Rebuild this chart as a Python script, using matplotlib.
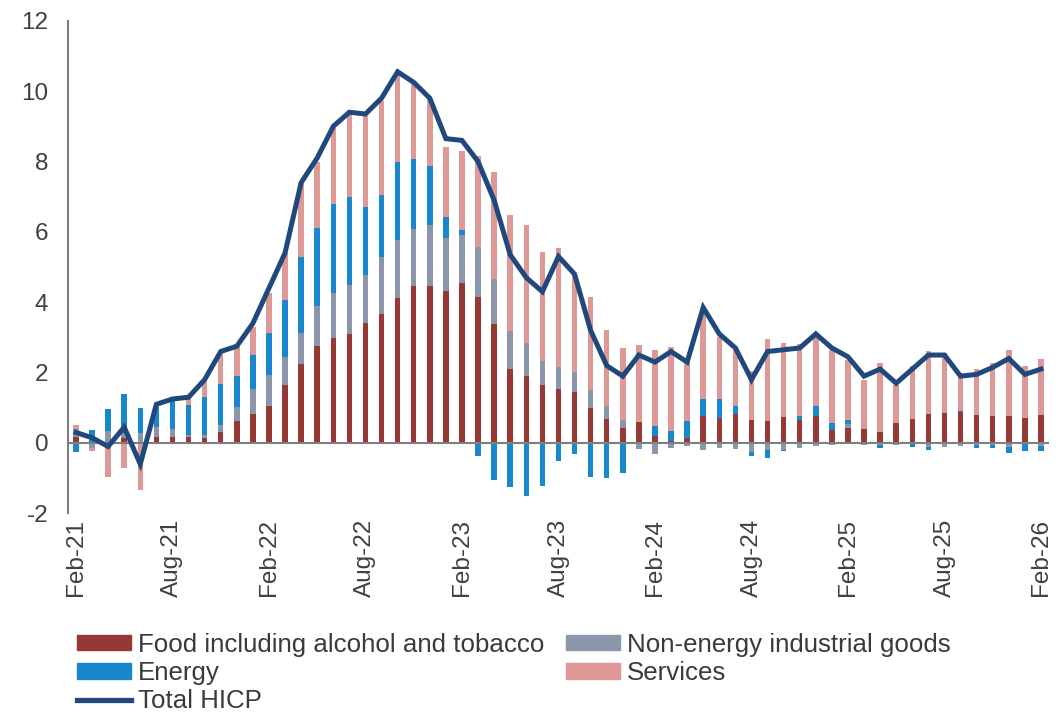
import numpy as np
import matplotlib.pyplot as plt
from matplotlib.patches import Patch
from matplotlib.lines import Line2D

plt.rcParams['font.family'] = ['Liberation Sans', 'DejaVu Sans']
plt.rcParams['axes.unicode_minus'] = False

# Data (contributions, percentage points), monthly Feb-21 .. Feb-26
months = ["Feb-21", "Mar-21", "Apr-21", "May-21", "Jun-21", "Jul-21", "Aug-21", "Sep-21", "Oct-21", "Nov-21",
          "Dec-21", "Jan-22", "Feb-22", "Mar-22", "Apr-22", "May-22", "Jun-22", "Jul-22", "Aug-22", "Sep-22",
          "Oct-22", "Nov-22", "Dec-22", "Jan-23", "Feb-23", "Mar-23", "Apr-23", "May-23", "Jun-23", "Jul-23",
          "Aug-23", "Sep-23", "Oct-23", "Nov-23", "Dec-23", "Jan-24", "Feb-24", "Mar-24", "Apr-24", "May-24",
          "Jun-24", "Jul-24", "Aug-24", "Sep-24", "Oct-24", "Nov-24", "Dec-24", "Jan-25", "Feb-25", "Mar-25",
          "Apr-25", "May-25", "Jun-25", "Jul-25", "Aug-25", "Sep-25", "Oct-25", "Nov-25", "Dec-25", "Jan-26",
          "Feb-26"]

food = [0.17, 0.00, 0.00, 0.15, 0.00, 0.17, 0.17, 0.17, 0.14, 0.31,
        0.63, 0.82, 1.05, 1.65, 2.24, 2.77, 2.97, 3.11, 3.42, 3.67,
        4.13, 4.45, 4.46, 4.33, 4.54, 4.15, 3.39, 2.09, 1.90, 1.64,
        1.54, 1.45, 1.00, 0.68, 0.43, 0.60, 0.21, 0.06, 0.14, 0.77,
        0.71, 0.82, 0.64, 0.62, 0.74, 0.65, 0.77, 0.37, 0.43, 0.41,
        0.31, 0.57, 0.68, 0.82, 0.85, 0.88, 0.79, 0.77, 0.76, 0.70,
        0.79]

neig = [0.24, -0.14, 0.33, 0.12, 0.28, 0.28, 0.24, 0.05, 0.08, 0.21,
        0.38, 0.72, 0.88, 0.80, 0.90, 1.13, 1.29, 1.38, 1.36, 1.61,
        1.64, 1.64, 1.74, 1.49, 1.37, 1.43, 1.28, 1.10, 0.95, 0.69,
        0.63, 0.57, 0.51, 0.36, 0.22, -0.18, -0.32, -0.13, -0.09, -0.19,
        -0.14, -0.16, -0.26, -0.21, -0.21, -0.14, -0.09, -0.05, 0.12, -0.07,
        -0.07, -0.05, -0.04, -0.10, -0.12, -0.08, -0.05, -0.05, -0.11, -0.03,
        -0.09]

energy = [-0.26, 0.36, 0.64, 1.11, 0.72, 0.57, 0.80, 0.85, 1.09, 1.15,
          0.89, 0.97, 1.20, 1.62, 2.16, 2.20, 2.54, 2.51, 1.94, 1.77,
          2.23, 1.99, 1.66, 0.59, 0.15, -0.37, -1.04, -1.25, -1.52, -1.21,
          -0.52, -0.30, -0.97, -1.00, -0.84, 0.00, 0.26, 0.28, 0.48, 0.47,
          0.53, 0.24, -0.11, -0.22, -0.03, 0.11, 0.28, 0.20, 0.11, 0.00,
          -0.07, -0.02, -0.06, -0.10, 0.00, 0.02, -0.08, -0.08, -0.17, -0.21,
          -0.15]

services = [0.09, -0.10, -0.97, -0.71, -1.33, 0.03, 0.11, 0.26, 0.47, 0.87,
            0.82, 0.80, 1.12, 1.34, 2.08, 1.90, 2.15, 2.33, 2.58, 2.66,
            2.46, 2.13, 1.89, 2.00, 2.25, 2.58, 3.04, 3.29, 3.35, 3.10,
            3.37, 2.80, 2.65, 2.18, 2.06, 2.18, 2.16, 2.39, 1.70, 2.44,
            1.77, 1.58, 1.40, 2.34, 2.10, 2.05, 2.06, 2.08, 1.71, 1.39,
            1.95, 1.07, 1.52, 1.80, 1.71, 1.09, 1.30, 1.50, 1.89, 1.48,
            1.59]

total = [0.30, 0.15, -0.10, 0.45, -0.60, 1.10, 1.25, 1.30, 1.80, 2.60,
         2.75, 3.40, 4.40, 5.40, 7.40, 8.10, 9.00, 9.40, 9.35, 9.80,
         10.55, 10.25, 9.80, 8.65, 8.60, 8.00, 6.90, 5.35, 4.70, 4.30,
         5.30, 4.80, 3.20, 2.20, 1.90, 2.50, 2.30, 2.60, 2.30, 3.85,
         3.10, 2.70, 1.80, 2.60, 2.65, 2.70, 3.10, 2.70, 2.45, 1.90,
         2.10, 1.70, 2.10, 2.50, 2.50, 1.90, 1.95, 2.15, 2.40, 1.95,
         2.10]

series = [("Food including alcohol and tobacco", food, "#963836"),
          ("Non-energy industrial goods", neig, "#8C96AA"),
          ("Energy", energy, "#1987CD"),
          ("Services", services, "#DE9896")]

fig = plt.figure(figsize=(10.61, 7.16), dpi=100)
ax = fig.add_axes([0.064, 0.283, 0.9247, 0.688])

x = np.arange(len(months))
width = 0.34
pos_base = np.zeros(len(x))
neg_base = np.zeros(len(x))
for name, vals, col in series:
    v = np.array(vals)
    p = np.where(v > 0, v, 0)
    n = np.where(v < 0, v, 0)
    ax.bar(x, p, width, bottom=pos_base, color=col, zorder=2)
    ax.bar(x, n, width, bottom=neg_base, color=col, zorder=2)
    pos_base += p
    neg_base += n

ax.axhline(0, color="#7f7f7f", lw=1.5, zorder=3)
ax.plot(x, total, color="#1F497D", lw=3.6, zorder=4, solid_joinstyle="miter")

ax.set_xlim(-0.5, 60.5)
ax.set_ylim(-2, 12)
ax.set_yticks(range(-2, 13, 2))
ax.set_xticks(x[::6])
ax.set_xticklabels(months[::6], rotation=90, va="top")
ax.tick_params(axis="both", length=0, labelsize=17.5, colors="#404040")
ax.tick_params(axis="y", pad=14)
ax.tick_params(axis="x", pad=4)

for s in ["top", "right", "bottom"]:
    ax.spines[s].set_visible(False)
ax.spines["left"].set_color("#7f7f7f")
ax.spines["left"].set_linewidth(1.5)

handles = [Patch(color=series[0][2], label=series[0][0]),
           Patch(color=series[2][2], label=series[2][0]),
           Line2D([0], [0], color="#1F497D", lw=3.8, label="Total HICP"),
           Patch(color=series[1][2], label=series[1][0]),
           Patch(color=series[3][2], label=series[3][0])]
fig.legend(handles=handles, loc="upper left", bbox_to_anchor=(0.063, 0.131),
           ncol=2, frameon=False, fontsize=18.6, handlelength=2.1, handleheight=0.55,
           handletextpad=0.25, labelspacing=0.17, columnspacing=0.85, borderaxespad=0,
           labelcolor="#3a3a3a")

fig.savefig("out.png", dpi=100)
